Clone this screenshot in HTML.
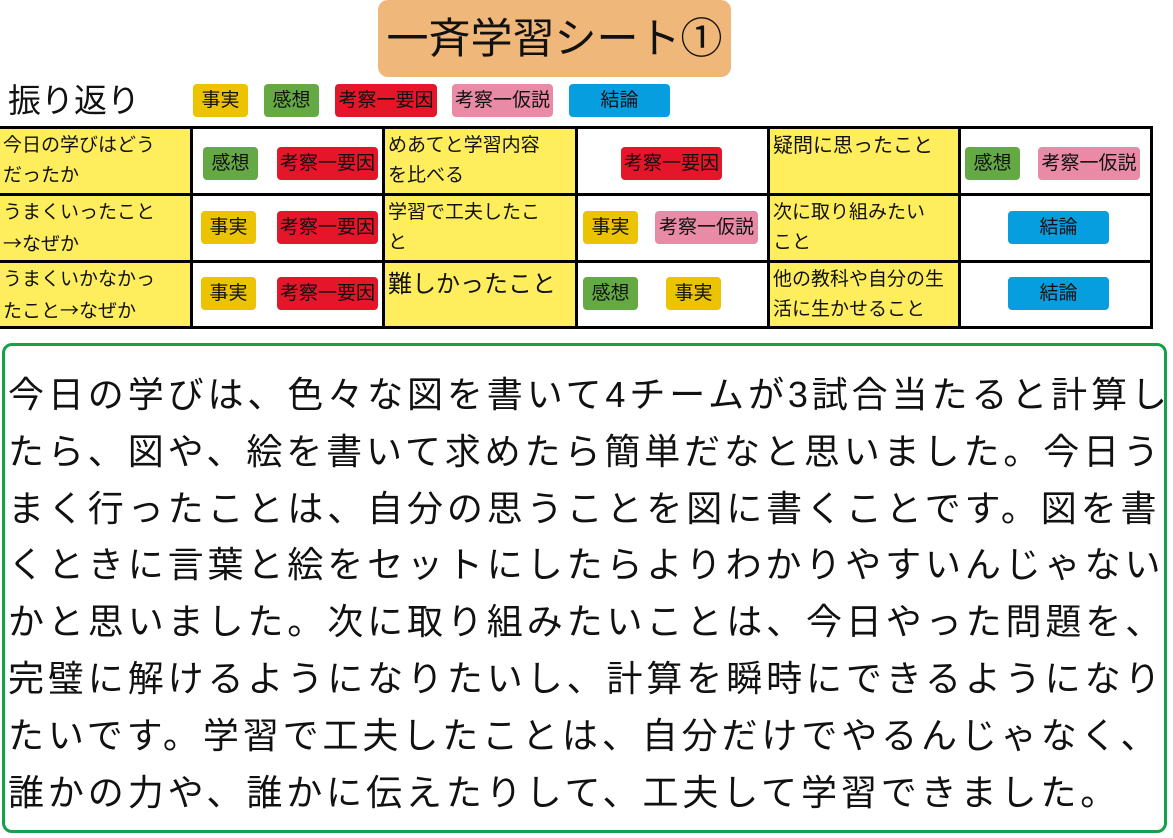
<!DOCTYPE html>
<html><head><meta charset="utf-8"><style>
*{margin:0;padding:0;box-sizing:border-box}
body{width:1173px;height:838px;background:#fff;position:relative;overflow:hidden;font-family:"Liberation Sans","Noto Sans CJK JP",sans-serif;color:#111}
.abs{position:absolute}
.ar{font-family:"Noto Sans CJK JP",sans-serif}
.title{left:378px;top:0;width:353px;height:77px;background:#f0b77a;border-radius:10px;font-size:42px;line-height:77px;text-align:center}
.tag{position:absolute;height:33px;line-height:33px;border-radius:4px;text-align:center;font-size:19px;white-space:nowrap}
.y{background:#ebc300}.g{background:#64a944}.r{background:#e5152a}.p{background:#e98aa6}.b{background:#079ee0}
.cell{position:absolute;border:3px solid #000;}
.lab{background:#feed5c;font-size:19px;line-height:30px;padding:2px 3px;overflow:hidden;white-space:nowrap}
.box{left:2px;top:343px;width:1165px;height:490px;border:3px solid #16a04a;border-radius:10px}
.txt{position:absolute;left:8px;top:367px;font-size:36px;letter-spacing:3.9px;line-height:56.8px;white-space:nowrap}
</style></head><body>
<div class="abs title">一斉学習シート①</div>
<div class="abs" style="left:8px;top:80px;font-size:33px;line-height:42px">振り返り</div>
<div class="tag y" style="left:193px;top:84px;width:55px">事実</div>
<div class="tag g" style="left:264px;top:84px;width:55px">感想</div>
<div class="tag r" style="left:335px;top:84px;width:102px">考察一要因</div>
<div class="tag p" style="left:452px;top:84px;width:101px">考察一仮説</div>
<div class="tag b" style="left:569px;top:84px;width:101px">結論</div>

<div class="cell lab" style="left:-3px;top:126px;width:196px;height:70px">今日の学びはどう<br>だったか</div>
<div class="cell" style="left:190px;top:126px;width:195px;height:70px"></div>
<div class="cell lab" style="left:382px;top:126px;width:196px;height:70px">めあてと学習内容<br>を比べる</div>
<div class="cell" style="left:575px;top:126px;width:195px;height:70px"></div>
<div class="cell lab" style="left:767px;top:126px;width:194px;height:70px;font-size:20px">疑問に思ったこと</div>
<div class="cell" style="left:958px;top:126px;width:195px;height:70px"></div>

<div class="cell lab" style="left:-3px;top:193px;width:196px;height:70px">うまくいったこと<br><span class="ar">→</span>なぜか</div>
<div class="cell" style="left:190px;top:193px;width:195px;height:70px"></div>
<div class="cell lab" style="left:382px;top:193px;width:196px;height:70px">学習で工夫したこ<br>と</div>
<div class="cell" style="left:575px;top:193px;width:195px;height:70px"></div>
<div class="cell lab" style="left:767px;top:193px;width:194px;height:70px">次に取り組みたい<br>こと</div>
<div class="cell" style="left:958px;top:193px;width:195px;height:70px"></div>

<div class="cell lab" style="left:-3px;top:260px;width:196px;height:69px">うまくいかなかっ<br>たこと<span class="ar">→</span>なぜか</div>
<div class="cell" style="left:190px;top:260px;width:195px;height:69px"></div>
<div class="cell lab" style="left:382px;top:260px;width:196px;height:69px;font-size:24px;line-height:40px">難しかったこと</div>
<div class="cell" style="left:575px;top:260px;width:195px;height:69px"></div>
<div class="cell lab" style="left:767px;top:260px;width:194px;height:69px">他の教科や自分の生<br>活に生かせること</div>
<div class="cell" style="left:958px;top:260px;width:195px;height:69px"></div>

<div class="tag g" style="left:203px;top:147px;width:55px">感想</div>
<div class="tag r" style="left:277px;top:147px;width:101px">考察一要因</div>
<div class="tag r" style="left:621px;top:147px;width:101px">考察一要因</div>
<div class="tag g" style="left:965px;top:147px;width:55px">感想</div>
<div class="tag p" style="left:1038px;top:147px;width:102px">考察一仮説</div>

<div class="tag y" style="left:201px;top:211px;width:55px">事実</div>
<div class="tag r" style="left:277px;top:211px;width:101px">考察一要因</div>
<div class="tag y" style="left:583px;top:211px;width:55px">事実</div>
<div class="tag p" style="left:655px;top:211px;width:103px">考察一仮説</div>
<div class="tag b" style="left:1008px;top:211px;width:101px">結論</div>

<div class="tag y" style="left:201px;top:277px;width:55px">事実</div>
<div class="tag r" style="left:277px;top:277px;width:101px">考察一要因</div>
<div class="tag g" style="left:583px;top:277px;width:55px">感想</div>
<div class="tag y" style="left:666px;top:277px;width:55px">事実</div>
<div class="tag b" style="left:1008px;top:277px;width:101px">結論</div>

<div class="abs box"></div>
<div class="txt">今日の学びは、色々な図を書いて4チームが3試合当たると計算し<br>たら、図や、絵を書いて求めたら簡単だなと思いました。今日う<br>まく行ったことは、自分の思うことを図に書くことです。図を書<br>くときに言葉と絵をセットにしたらよりわかりやすいんじゃない<br>かと思いました。次に取り組みたいことは、今日やった問題を、<br>完璧に解けるようになりたいし、計算を瞬時にできるようになり<br>たいです。学習で工夫したことは、自分だけでやるんじゃなく、<br>誰かの力や、誰かに伝えたりして、工夫して学習できました。</div>
</body></html>
